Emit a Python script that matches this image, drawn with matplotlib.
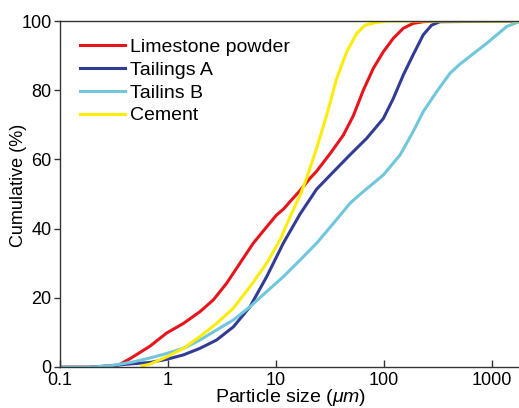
"""Cumulative particle size distribution of the four binder / filler materials."""
import matplotlib
matplotlib.use("Agg")
import matplotlib.pyplot as plt

plt.rcParams.update({
    "font.family": "Liberation Sans",
    "font.size": 13,
    "mathtext.fontset": "custom",
    "mathtext.it": "Liberation Sans:italic",
    "mathtext.rm": "Liberation Sans",
})

# particle size (um) / cumulative passing (%)
limestone_x = [0.1, 0.3, 0.36, 0.45, 0.55, 0.68, 0.97, 1.39, 1.98, 2.63, 3.49, 4.64, 6.17, 8.2,
               10.1, 11.7, 13.5, 16.7, 20.6, 23.8, 31.6, 42, 52, 64.4, 79.6, 98.6, 122, 151,
               186, 231, 300, 1780]
limestone_y = [0, 0, 0.8, 2.5, 4.2, 6.0, 9.8, 12.6, 16.0, 19.4, 24.2, 30, 35.8, 40.5,
               43.9, 45.6, 47.8, 51.0, 54.5, 56.6, 61.6, 67.0, 72.6, 80.0, 86.3, 91.1, 95,
               97.9, 99.3, 99.8, 100, 100]

tailings_a_x = [0.2, 0.3, 0.45, 0.68, 0.97, 1.39, 1.98, 2.82, 4.03, 5.74, 8.2, 11.7, 16.7,
                23.8, 34, 48.4, 69.2, 98.6, 122, 151, 186, 231, 276, 330, 1780]
tailings_a_y = [0, 0.4, 0.9, 1.3, 2.2, 3.5, 5.4, 7.8, 11.6, 17.4, 26.1, 35.8, 44.2,
                51.4, 56.4, 61.3, 66.1, 71.8, 77.6, 84.4, 90.2, 96, 98.8, 99.8, 100]

tailings_b_x = [0.1, 0.2, 0.3, 0.48, 0.68, 0.97, 1.39, 1.98, 2.82, 4.03, 5.74, 8.2, 11.7,
                16.7, 23.8, 34, 48.4, 60, 98.6, 141, 186, 231, 308, 409, 503, 890, 1370, 1780]
tailings_b_y = [0, 0, 0.4, 1.5, 2.6, 3.9, 5.4, 7.8, 10.7, 13.6, 17.4, 21.8, 26.1,
                30.9, 35.8, 41.5, 47.3, 49.9, 55.5, 61.3, 68, 73.8, 79.6, 84.9, 87.5, 93.5,
                98.4, 99.8]

cement_x = [0.57, 0.68, 0.97, 1.39, 1.98, 2.82, 4.03, 5.74, 8.2, 10.9, 13.5, 16.7, 19.2,
            23.8, 29.5, 36.5, 45.2, 55.9, 66.7, 85.6, 110, 1780]
cement_y = [0.3, 0.8, 2.9, 5.4, 8.8, 12.6, 17.0, 23.2, 30, 36.7, 43.4, 49.6, 54.5,
            63.2, 72.8, 83.4, 91.1, 96.4, 98.8, 99.6, 100, 100]

series = [
    ("Limestone powder", limestone_x, limestone_y, "#e8141c"),
    ("Tailings A", tailings_a_x, tailings_a_y, "#323c94"),
    ("Tailins B", tailings_b_x, tailings_b_y, "#70c7dc"),
    ("Cement", cement_x, cement_y, "#fcec0c"),
]

x_ticks = [0.1, 1, 10, 100, 1000]
x_tick_labels = ["0.1", "1", "10", "100", "1000"]
y_ticks = [0, 20, 40, 60, 80, 100]

fig = plt.figure(figsize=(5.19, 4.08), dpi=100)
ax = fig.add_axes([0.1156, 0.1005, 0.8844, 0.848])

for label, xs, ys, color in series:
    ax.plot(xs, ys, color=color, linewidth=2.2, label=label,
            solid_joinstyle="round")

ax.set_xscale("log")
ax.set_xlim(0.1, 1780)
ax.set_ylim(0, 100)
ax.set_xticks(x_ticks)
ax.set_xticklabels(x_tick_labels)
ax.xaxis.set_minor_locator(matplotlib.ticker.NullLocator())
ax.set_yticks(y_ticks)

ax.tick_params(axis="x", direction="in", length=5, width=1, pad=3.5, color="#333333")
ax.tick_params(axis="y", direction="out", length=4, width=1, pad=2, color="#333333")
ax.spines["right"].set_visible(False)
for s in ("left", "bottom", "top"):
    ax.spines[s].set_color("#333333")
    ax.spines[s].set_linewidth(1.0)

# labels placed by hand: the y label sits partly beside the tick numbers
ax.set_xlabel(r"Particle size ($\mathit{\mu m}$)", fontsize=14)
ax.xaxis.label.set_verticalalignment("baseline")
ax.xaxis.set_label_coords(0.502, -0.102)
ax.set_ylabel("Cumulative (%)", fontsize=13)
ax.yaxis.set_label_coords(-0.072, 0.526)

ax.legend(loc="upper left", frameon=False, fontsize=14, handlelength=2.3,
          handletextpad=0.25, labelspacing=0.27, borderaxespad=0.4,
          bbox_to_anchor=(0.01, 0.995))

fig.savefig("out.png", dpi=100)
